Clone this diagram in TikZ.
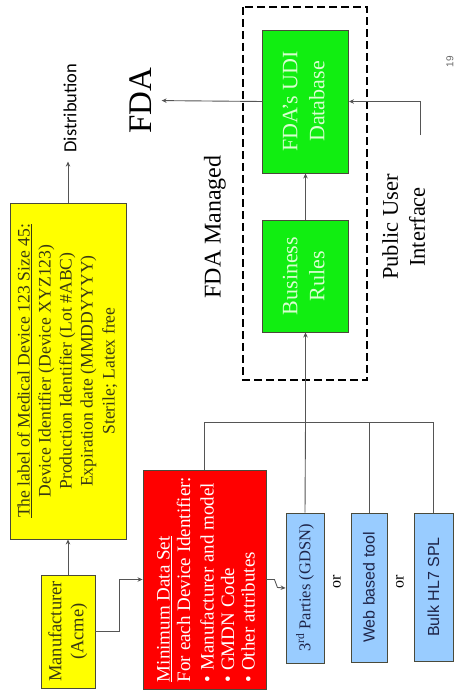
\documentclass[tikz,border=0pt]{standalone}
\usepackage{fontspec}
\setmainfont{Liberation Serif}
\newfontfamily\sansf{Liberation Sans}
\newfontfamily\carl{Carlito}
\usepackage{graphicx}
\usetikzlibrary{arrows.meta}
\definecolor{yel}{HTML}{FFFF00}
\definecolor{redf}{HTML}{FF0000}
\definecolor{bluef}{HTML}{99CCFF}
\definecolor{greenf}{HTML}{11EE11}
\definecolor{edge}{HTML}{4A4A3A}
\definecolor{ytext}{HTML}{3A3A14}
\definecolor{btext}{HTML}{1E2448}
\definecolor{gtext}{HTML}{D8FFD0}
\definecolor{lin}{HTML}{555555}
\newcommand{\rt}[1]{\rotatebox{90}{#1}}
\begin{document}
\begin{tikzpicture}[x=1pt,y=-1pt,
  boxbase/.style={draw=edge, line width=0.9pt, inner sep=0pt},
  ybox/.style={boxbase, fill=yel, text=ytext},
  rbox/.style={boxbase, fill=redf, text=white},
  bbox/.style={boxbase, fill=bluef, text=btext},
  gbox/.style={boxbase, fill=greenf, text=gtext},
  conn/.style={draw=lin, line width=0.9pt},
  arr/.style={conn, -{Stealth[length=5pt,width=4.5pt]}},
  plain/.style={inner sep=0pt, text=black}
]
\useasboundingbox (0,0) rectangle (457,690);

% yellow boxes
\node[ybox, minimum width=54pt, minimum height=113pt] (man) at (68,631.5)
  {\rt{\fontsize{18.5}{22}\selectfont\begin{tabular}{@{}c@{}}Manufacturer\\(Acme)\end{tabular}}};
\node[ybox, minimum width=116pt, minimum height=336pt] (lab) at (68,371)
  {\rt{\fontsize{17.6}{21}\selectfont\begin{tabular}{@{}c@{}}\underline{The label of Medical Device 123 Size 45:}\\Device Identifier (Device XYZ123)\\Production Identifier (Lot \#ABC)\\Expiration date (MMDDYYYY)\\[1pt]Sterile; Latex free\end{tabular}}};

% red box
\node[rbox, minimum width=123pt, minimum height=219pt] (mds) at (204.5,579.5) {};
\node[plain, text=white] (mdstext) at (208,579.5)
  {\rt{\fontsize{19}{20.5}\selectfont\begin{tabular}{@{}l@{}}\underline{Minimum Data Set}\\For each Device Identifier:\\[3pt]\textbullet\ Manufacturer and model\\\textbullet\ GMDN Code\\\textbullet\ Other attributes\end{tabular}}};

% blue boxes
\node[bbox, minimum width=38pt, minimum height=150pt] (p3) at (305,588)
  {\rt{\fontsize{16.5}{19}\selectfont 3\textsuperscript{rd} Parties (GDSN)}};
\node[bbox, minimum width=36pt, minimum height=149pt] (web) at (369,587.5)
  {\rt{\sansf\fontsize{16}{19}\selectfont Web based tool}};
\node[bbox, minimum width=39pt, minimum height=148pt] (bulk) at (433.5,587)
  {\rt{\sansf\fontsize{16}{19}\selectfont Bulk HL7 SPL}};
\node[plain] (or1) at (337,582) {\rt{\fontsize{16}{19}\selectfont or}};
\node[plain] (or2) at (400,582) {\rt{\fontsize{16}{19}\selectfont or}};

% dashed FDA-managed region
\draw[black, line width=2.2pt, dash pattern=on 8pt off 4pt] (243,7) rectangle (367,380);
\node[plain] (fdam) at (215,227) {\rt{\fontsize{24}{28}\selectfont FDA Managed}};

% green boxes
\node[gbox, minimum width=86pt, minimum height=112pt] (br) at (305.5,276)
  {\rt{\fontsize{22}{27}\selectfont\begin{tabular}{@{}c@{}}Business\\Rules\end{tabular}}};
\node[gbox, minimum width=86pt, minimum height=143pt] (db) at (305.5,101.5)
  {\rt{\fontsize{22}{27}\selectfont\begin{tabular}{@{}c@{}}FDA's UDI\\Database\end{tabular}}};

% free labels
\node[plain] (dist) at (70,108) {\rt{\carl\fontsize{18.5}{20}\selectfont Distribution}};
\node[plain] (fda) at (140.5,100.5) {\rt{\fontsize{33}{38}\selectfont FDA}};
\node[plain] (pui) at (406,227) {\rt{\fontsize{22.5}{27}\selectfont\begin{tabular}{@{}c@{}}Public User\\Interface\end{tabular}}};
\node[plain, text=black!60] (pg) at (450,61.5) {\rt{\sansf\fontsize{10}{12}\selectfont 19}};
\coordinate (puiend) at (420,135);
\coordinate (bus) at (305.5,422);

% connectors
\draw[arr] (man.north) -- (lab.south);
\draw[arr, shorten >=9pt] (lab.north) -- (lab.north |- dist.south);
\draw[arr] (man.east) -- ++(24,0) |- (mds.west);
\draw[arr] (mds.east) -- ++(8,0) -- ++(3,8) -- (p3.west);
\draw[conn] (mds.north) |- (bulk.north |- bus) -- (bulk.north);
\draw[conn] (web.north |- bus) -- (web.north);
\draw[conn] (p3.north) -- (bus);
\draw[arr] (bus) -- (br.south);
\draw[arr] (br.north) -- (db.south);
\draw[arr, shorten >=10pt] (db.west) -- (fda.east);
\draw[arr] (puiend) |- (db.east);
\end{tikzpicture}
\end{document}
